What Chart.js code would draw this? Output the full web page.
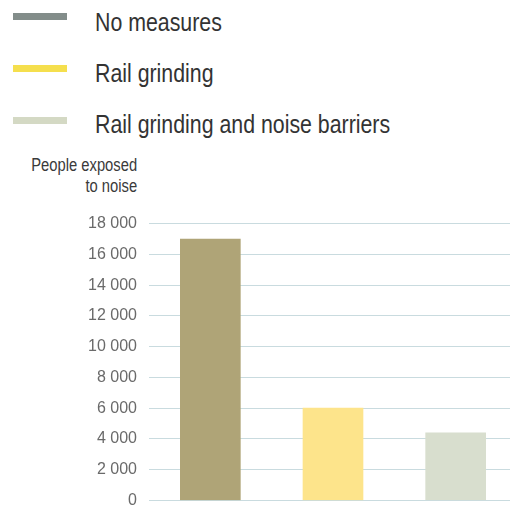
<!DOCTYPE html>
<html>
<head>
<meta charset="utf-8">
<script src="https://cdn.jsdelivr.net/npm/chart.js@4.4.1/dist/chart.umd.min.js"></script>
<style>
    html, body { margin: 0; padding: 0; background: #fff; overflow: hidden; }
    #page { position: relative; width: 510px; height: 507px; overflow: hidden; }
    .swatch { position: absolute; left: 13px; width: 54px; height: 7px; }
    .legend-text {
        position: absolute; left: 95px; white-space: nowrap;
        font: 26px/30px "Liberation Sans", sans-serif; color: #333;
        transform: scaleX(0.82); transform-origin: left center;
    }
    #axis-title {
        position: absolute; right: 373px; top: 155px; text-align: right; white-space: nowrap;
        font: 18px/21px "Liberation Sans", sans-serif; color: #3a3a3a;
        transform: scaleX(0.82); transform-origin: right center;
    }
    #chart-box { position: absolute; left: 0; top: 202px; width: 517px; height: 320px; }
</style>
</head>
<body>
<div id="page">
    <div id="legend"></div>
    <div id="axis-title">People exposed<br>to noise</div>
    <div id="chart-box"><canvas id="noise-chart"></canvas></div>
</div>
<script>
// Scenarios and people exposed in each
const categories = ['No measures', 'Rail grinding', 'Rail grinding and noise barriers'];
const peopleExposed = [17000, 6000, 4400];
const yTicks = [0, 2000, 4000, 6000, 8000, 10000, 12000, 14000, 16000, 18000];

const barColors = ['#afa477', '#fde48b', '#d8dece'];
const legendColors = ['#838d8a', '#f5df4d', '#d4d9c4'];

const FONT = '"Liberation Sans", sans-serif';

/**
 * Legend built as a vertical list above the chart
 */
function buildLegend() {
    const legend = document.getElementById('legend');
    const textTops = [7, 58, 109];
    const swatchTops = [13, 65, 117];
    categories.forEach((name, i) => {
        legend.insertAdjacentHTML('beforeend',
            `<div class="swatch" style="top:${swatchTops[i]}px;background:${legendColors[i]}"></div>` +
            `<div class="legend-text" style="top:${textTops[i]}px">${name}</div>`);
    });
}

// "18 000" style numbers
function formatThousands(v) {
    return String(v).replace(/\B(?=(\d{3})+(?!\d))/g, ' ');
}

buildLegend();

new Chart(document.getElementById('noise-chart'), {
    type: 'bar',
    data: {
        labels: categories,
        datasets: [{
            data: peopleExposed,
            backgroundColor: barColors,
            borderWidth: 0,
            barThickness: 60
        }]
    },
    options: {
        responsive: true,
        maintainAspectRatio: false,
        animation: false,
        layout: { padding: 0 },
        plugins: {
            legend: { display: false },
            tooltip: { enabled: false }
        },
        scales: {
            x: {
                display: false,
                offset: true
            },
            y: {
                min: 0,
                max: 18000,
                afterFit: scale => { scale.width = 149; },
                afterBuildTicks: scale => {
                    scale.ticks = yTicks.map(v => ({ value: v }));
                },
                border: { display: false },
                grid: {
                    color: '#c9dbdf',
                    lineWidth: 1,
                    drawTicks: false
                },
                ticks: {
                    padding: 12,
                    color: '#6a6a6a',
                    font: { family: FONT, size: 16 },
                    callback: v => formatThousands(v)
                }
            }
        }
    }
});
</script>
</body>
</html>
